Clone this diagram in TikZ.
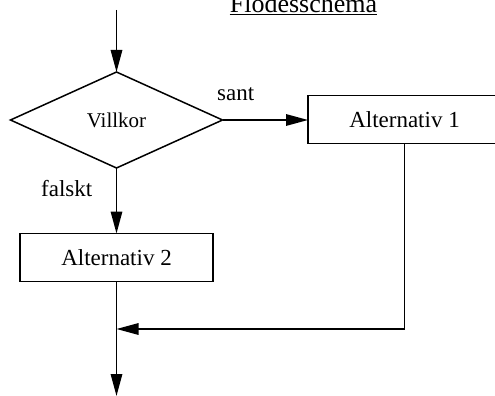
\documentclass[tikz,border=0pt]{standalone}
\usepackage{fontspec}
\setmainfont{Liberation Serif}
\usetikzlibrary{shapes.geometric,arrows.meta}

\begin{document}
\begin{tikzpicture}[x=1pt,y=-1pt,
  flow/.style={line width=1.5pt},
  arr/.style={flow,-{Triangle[length=22pt,width=11.5pt]}},
  stepbox/.style={draw,line width=1.5pt,rectangle,minimum width=193pt,
    minimum height=48pt,inner sep=0pt,outer sep=0pt,
    font=\fontsize{23}{27}\selectfont},
  decision/.style={draw,line width=1.5pt,diamond,minimum width=212pt,
    minimum height=96pt,inner sep=0pt,outer sep=0pt,
    font=\fontsize{21}{25}\selectfont},
  label/.style={inner sep=0pt,anchor=base west,font=\fontsize{23}{27}\selectfont}]
  \useasboundingbox (0,0) rectangle (495,396);
  \clip (0,0) rectangle (495,396);

  % title
  \node[inner sep=0pt,anchor=base,font=\fontsize{26}{30}\selectfont] (title) at (303.5,12.3) {Flodesschema};
  \draw[line width=1.6pt] ([yshift=-2.3pt]title.base west) -- ([yshift=-2.3pt]title.base east);

  % shapes
  \node[decision] (cond) at (116.5,120) {Villkor};
  \node[stepbox] (alt1) at (404.5,119.5) {Alternativ 1};
  \node[stepbox] (alt2) at (116.5,257.5) {Alternativ 2};

  % branch labels
  \node[label] (yes) at (217,100.5) {sant};
  \node[label] (no) at (41,196) {falskt};

  % free ends of the flow
  \coordinate (in) at (116.5,10);
  \coordinate (join) at (116.5,329);
  \coordinate (out) at (116.5,396);

  % connectors
  \draw[arr] (in) -- (cond.north);
  \draw[arr] (cond.east) -- (cond.east -| alt1.west);
  \draw[arr] (cond.south) -- (alt2.north);
  \draw[arr] (alt1.south) |- (join);
  \draw[arr] (alt2.south) -- (out);
\end{tikzpicture}
\end{document}
